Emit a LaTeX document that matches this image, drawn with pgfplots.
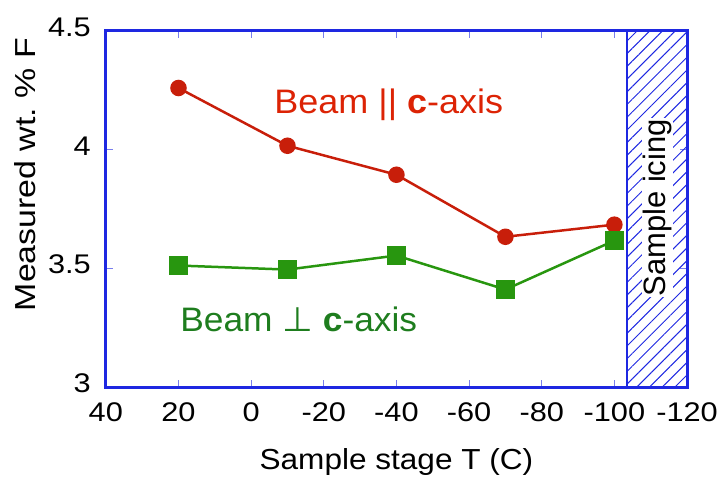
\documentclass[border=0pt]{standalone}
\usepackage{fontspec}
\setmainfont{Liberation Sans}
\newfontfamily\dejavu{DejaVu Sans}
\usepackage{pgfplots}
\pgfplotsset{compat=1.18}
\usetikzlibrary{patterns.meta}
\definecolor{framecol}{RGB}{30,40,225}
\definecolor{redline}{RGB}{200,30,10}
\definecolor{redlabel}{RGB}{220,35,5}
\definecolor{greenline}{RGB}{40,150,15}
\definecolor{greenlabel}{RGB}{30,125,30}

\begin{document}
\begin{tikzpicture}
\begin{axis}[
    scale only axis,
    width=582pt,
    height=357pt,
    x dir=reverse,
    xmin=-120, xmax=40,
    ymin=3, ymax=4.5,
    xtick={40,20,0,-20,-40,-60,-80,-100,-120},
    ytick={3,3.5,4,4.5},
    /pgf/number format/assume math mode=true,
    ticklabel style={font=\fontsize{27}{30}\selectfont, inner sep=0pt, xscale=1.14},
    yticklabel style={/pgf/number format/fixed, /pgf/number format/precision=1,
        anchor=east, xshift=-13pt, yshift=4pt},
    xticklabel style={anchor=center, yshift=-25pt},
    tick align=inside,
    major tick length=7pt,
    tick style={color=framecol!60, line width=0.8pt},
    axis line style={framecol, line width=3pt},
    xlabel={Sample stage T (C)},
    ylabel={Measured wt.\ \% F},
    label style={font=\fontsize{29}{33}\selectfont, inner sep=1pt},
    xlabel style={at={(axis description cs:0.5,0)}, anchor=center, yshift=-75pt, xscale=1.09},
    ylabel style={at={(axis description cs:-0.139,0.597)}, anchor=center, xscale=1.17},
    clip=false,
]
% fixed page frame: 718 x 478
\path ([xshift=-106pt,yshift=-90pt]rel axis cs:0,0)
    rectangle ([xshift=31pt,yshift=31pt]rel axis cs:1,1);

\addplot[draw=framecol, line width=2.5pt,
    pattern={Lines[angle=45,distance=9pt,line width=1pt]}, pattern color=framecol]
    coordinates {(-103.5,3) (-103.5,4.5) (-120,4.5) (-120,3)} -- cycle;
\node[rotate=90, font=\fontsize{31}{35}\selectfont, fill=white, inner sep=1pt]
    at (axis cs:-111.75,3.756) {Sample icing};

\addplot[redline, line width=2.5pt, mark=*, mark size=7pt]
    coordinates {(20,4.26) (-10,4.017) (-40,3.895) (-70,3.634) (-100,3.685)};
\addplot[greenline, line width=2.5pt, mark=square*, mark size=8pt]
    coordinates {(20,3.513) (-10,3.496) (-40,3.555) (-70,3.412) (-100,3.618)};

\node[redlabel, font=\fontsize{34}{38}\selectfont, xscale=1.06] at (axis cs:-37.9,4.19)
    {Beam || \textbf{c}-axis};
\node[greenlabel, font=\fontsize{34}{38}\selectfont, xscale=1.04] at (axis cs:-13.1,3.286)
    {Beam {\dejavu ⊥} \textbf{c}-axis};
\end{axis}
\end{tikzpicture}
\end{document}
